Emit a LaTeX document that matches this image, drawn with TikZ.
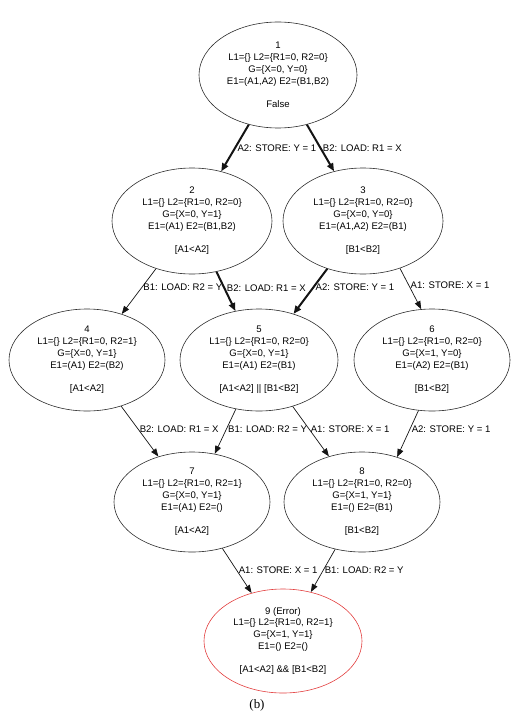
\documentclass[tikz,border=0pt]{standalone}
\usepackage{fontspec}
\setmainfont{Liberation Sans}
\newfontfamily\capfont{Liberation Serif}
\usetikzlibrary{shapes.geometric,arrows.meta}
\definecolor{errred}{RGB}{226,62,62}
\definecolor{inkc}{RGB}{20,20,20}
\begin{document}
\begin{tikzpicture}[x=1bp,y=-1bp,
  state/.style={ellipse,draw=inkc!90,line width=0.6bp,inner sep=0pt,align=center,
    minimum width=158bp,minimum height=104bp,font=\fontsize{9.6}{11.8}\selectfont},
  errstate/.style={state,draw=errred},
  lbl/.style={anchor=west,inner sep=1.5bp,font=\fontsize{9.6}{11.8}\selectfont,text=black},
  thinedge/.style={draw=inkc,line width=0.7bp,-{Triangle[length=8bp,width=6bp]}},
  thickedge/.style={draw=inkc,line width=2bp,-{Triangle[length=8bp,width=6.5bp]}}]
\useasboundingbox (0,0) rectangle (528,716);

\node[state,minimum height=106bp] (n1) at (278,75) {1\\L1=\{\} L2=\{R1=0, R2=0\}\\G=\{X=0, Y=0\}\\E1=(A1,A2) E2=(B1,B2)\\[11.8pt]False};
\node[state,minimum width=160bp,minimum height=106bp] (n2) at (192,221) {2\\L1=\{\} L2=\{R1=0, R2=0\}\\G=\{X=0, Y=1\}\\E1=(A1) E2=(B1,B2)\\[11.8pt][A1<A2]};
\node[state,minimum width=160bp,minimum height=106bp] (n3) at (363,221) {3\\L1=\{\} L2=\{R1=0, R2=0\}\\G=\{X=0, Y=0\}\\E1=(A1,A2) E2=(B1)\\[11.8pt][B1<B2]};
\node[state,minimum width=156bp,minimum height=102bp] (n4) at (87,360) {4\\L1=\{\} L2=\{R1=0, R2=1\}\\G=\{X=0, Y=1\}\\E1=(A1) E2=(B2)\\[11.8pt][A1<A2]};
\node[state,minimum height=102bp] (n5) at (259,360) {5\\L1=\{\} L2=\{R1=0, R2=0\}\\G=\{X=0, Y=1\}\\E1=(A1) E2=(B1)\\[11.8pt][A1<A2] || [B1<B2]};
\node[state,minimum width=156bp,minimum height=102bp] (n6) at (432,360) {6\\L1=\{\} L2=\{R1=0, R2=0\}\\G=\{X=1, Y=0\}\\E1=(A2) E2=(B1)\\[11.8pt][B1<B2]};
\node[state,minimum width=156bp,minimum height=100bp] (n7) at (192,502) {7\\L1=\{\} L2=\{R1=0, R2=1\}\\G=\{X=0, Y=1\}\\E1=(A1) E2=()\\[11.8pt][A1<A2]};
\node[state,minimum width=156bp,minimum height=100bp] (n8) at (362,502) {8\\L1=\{\} L2=\{R1=0, R2=0\}\\G=\{X=1, Y=1\}\\E1=() E2=(B1)\\[11.8pt][B1<B2]};
\node[errstate,minimum height=104bp] (n9) at (283,641) {9 (Error)\\L1=\{\} L2=\{R1=0, R2=1\}\\G=\{X=1, Y=1\}\\E1=() E2=()\\[11.8pt][A1<A2] \&\& [B1<B2]};
\node[font=\capfont\fontsize{13}{14}\selectfont,inner sep=0pt] (cap) at (257,705) {(b)};

\draw[thickedge] (n1) -- node[lbl] (l12) {A2: STORE: Y = 1} (n2);
\draw[thickedge] (n1) -- node[lbl] (l13) {B2: LOAD: R1 = X} (n3);
\draw[thinedge] (n2) -- node[lbl,pos=0.42] (l24) {B1: LOAD: R2 = Y} (n4);
\draw[thickedge] (n2) -- node[lbl,pos=0.42] (l25) {B2: LOAD: R1 = X} (n5);
\draw[thickedge] (n3) -- node[lbl,pos=0.42] (l35) {A2: STORE: Y = 1} (n5);
\draw[thinedge] (n3.308) -- node[lbl,pos=0.42] (l36) {A1: STORE: X = 1} (n6.102);
\draw[thinedge] (n4) -- node[lbl,pos=0.45] (l47) {B2: LOAD: R1 = X} (n7);
\draw[thinedge] (n5) -- node[lbl,pos=0.45] (l57) {B1: LOAD: R2 = Y} (n7);
\draw[thinedge] (n5) -- node[lbl,pos=0.45] (l58) {A1: STORE: X = 1} (n8);
\draw[thinedge] (n6.-105) -- node[lbl,pos=0.4] (l68) {A2: STORE: Y = 1} (n8.52);
\draw[thinedge] (n7) -- node[lbl] (l79) {A1: STORE: X = 1} (n9);
\draw[thinedge] (n8) -- node[lbl] (l89) {B1: LOAD: R2 = Y} (n9);
\end{tikzpicture}
\end{document}
